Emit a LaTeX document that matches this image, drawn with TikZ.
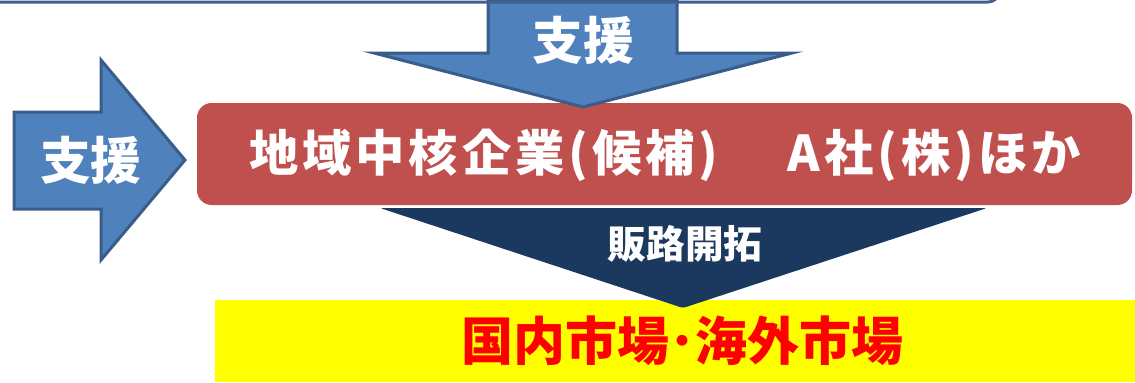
\documentclass[tikz,border=0pt]{standalone}
\usepackage{fontspec}
\setmainfont{Noto Sans CJK JP}
\tikzset{every picture/.style={line width=0.75pt}}

\begin{document}
\begin{tikzpicture}[x=0.75pt,y=0.75pt,yscale=-1,xscale=1]
\useasboundingbox (0,0) rectangle (1135,382);
\clip (0,0) rectangle (1135,382);

%Shape: Rectangle [id:yellowMarket] 
\draw  [draw opacity=0][fill={rgb, 255:red, 255; green, 255; blue, 0 }  ,fill opacity=1 ] (215,300) rectangle (1135,382) ;
%Shape: Triangle [id:navySales] 
\draw  [draw opacity=0][fill={rgb, 255:red, 27; green, 56; blue, 94 }  ,fill opacity=1 ][rounded corners=2] (380,208) -- (987,208) -- (683,308) -- cycle ;
%Shape: Rounded Rect [id:redCompany] 
\draw  [draw opacity=0][fill={rgb, 255:red, 192; green, 80; blue, 77 }  ,fill opacity=1 ][rounded corners=11] (197,103) rectangle (1132,205) ;
%Shape: Right Arrow [id:leftSupport] 
\draw  [color={rgb, 255:red, 56; green, 93; blue, 138 }  ,draw opacity=1 ][fill={rgb, 255:red, 79; green, 129; blue, 189 }  ,fill opacity=1 ][line width=2.25] (14,112) -- (101,112) -- (101,60) -- (185,160) -- (101,260) -- (101,209) -- (14,209) -- cycle ;
%Shape: Down Arrow [id:topSupport] 
\draw  [color={rgb, 255:red, 56; green, 93; blue, 138 }  ,draw opacity=1 ][fill={rgb, 255:red, 79; green, 129; blue, 189 }  ,fill opacity=1 ][line width=2.25] (488,0) -- (488,53) -- (374,53) -- (583,107) -- (792,53) -- (677,53) -- (677,0) -- cycle ;
%Shape: Rounded Rect [id:topFrame] 
\draw  [color={rgb, 255:red, 63; green, 97; blue, 146 }  ,draw opacity=1 ][line width=2.25][rounded corners=10] (-20,-60) -- (-20,2) -- (1001,2) -- (1001,-60) ;

% Text Node
\draw (583,40) node [inner sep=0.75pt]  [font=\fontsize{38}{40}\selectfont\bfseries] [color=white] (shienTop) {支援};
% Text Node
\draw (91,160) node [inner sep=0.75pt]  [font=\fontsize{38}{40}\selectfont\bfseries] [color=white] (shienLeft) {支援};
% Text Node
\draw (665,155) node [inner sep=0.75pt]  [font=\fontsize{37}{39}\selectfont\bfseries\addfontfeature{LetterSpace=8}] [color=white] (company) {地域中核企業(候補)\hspace{1.4em}A社(株)ほか};
% Text Node
\draw (685,244) node [inner sep=0.75pt]  [font=\fontsize{29}{31}\selectfont\bfseries] [color=white] (sales) {販路開拓};
% Text Node
\draw (682,341) node [inner sep=0.75pt]  [font=\fontsize{39}{41}\selectfont\bfseries] [color={rgb, 255:red, 255; green, 0; blue, 0 }] (market) {国内市場･海外市場};

\end{tikzpicture}
\end{document}
